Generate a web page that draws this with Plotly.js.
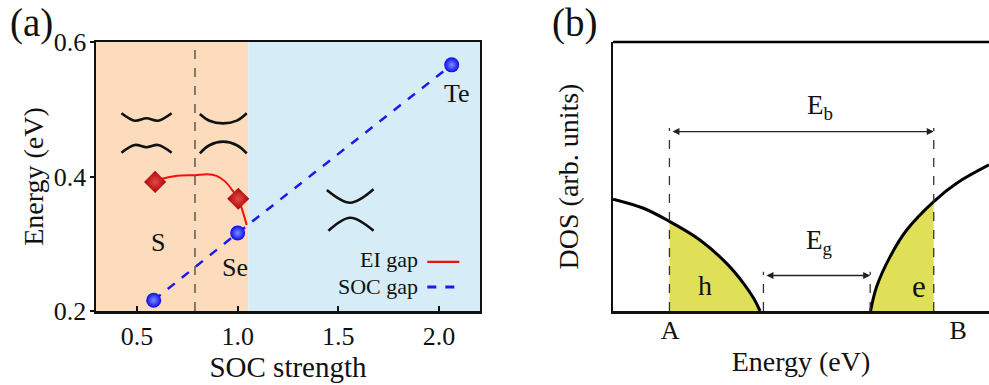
<!DOCTYPE html>
<html>
<head>
<meta charset="utf-8">
<script src="https://cdn.plot.ly/plotly-3.0.1.min.js"></script>
<style>html,body{margin:0;padding:0;background:#fff;}#chart{width:989px;height:385px;}</style>
</head>
<body>
<div id="chart"></div>
<script>
// ---------- Panel (a) data ----------
var socX = [0.583, 1.0, 2.063];
var socY = [0.216, 0.316, 0.566];
var socLabels = ['S', 'Se', 'Te'];
var eiCurveX = [0.59, 0.63, 0.70, 0.79, 0.85, 0.895, 0.94, 0.97, 1.003, 1.045];
var eiCurveY = [0.392, 0.397, 0.401, 0.402, 0.4035, 0.401, 0.392, 0.381, 0.367, 0.328];
var eiPointX = [0.59, 1.003];
var eiPointY = [0.392, 0.367];
var eiRegionEnd = 1.053;
var phaseLine = 0.788;
// band sketches (schematic)
var wavyUpX = [0.423, 0.489, 0.547, 0.605, 0.672];
var wavyUpY = [0.494, 0.483, 0.4866, 0.483, 0.494];
var wavyLoX = [0.423, 0.489, 0.547, 0.605, 0.672];
var wavyLoY = [0.4354, 0.4469, 0.4434, 0.4469, 0.4354];
var seUpX = [0.812, 0.86, 0.928, 0.996, 1.045];
var seUpY = [0.493, 0.483, 0.479, 0.483, 0.494];
var seLoX = [0.812, 0.86, 0.928, 0.996, 1.045];
var seLoY = [0.4345, 0.4465, 0.4518, 0.4465, 0.4345];
var teUpX = [1.443, 1.559, 1.675];
var teUpY = [0.380, 0.361, 0.381];
var teLoX = [1.451, 1.559, 1.675];
var teLoY = [0.3194, 0.3387, 0.3194];

// ---------- Panel (b) data ----------
var valX = [0, 0.81, 1.5, 2.31, 3.02, 3.47, 3.74, 3.91];
var valY = [4.16, 3.82, 3.33, 2.64, 1.77, 1.03, 0.47, 0];
var valFillX = [1.5, 2.31, 3.02, 3.47, 3.74, 3.91];
var valFillY = [3.33, 2.64, 1.77, 1.03, 0.47, 0];
var conX = [6.85, 7.01, 7.37, 7.81, 8.53, 9.14, 10];
var conY = [0, 0.90, 2.02, 3.01, 4.07, 4.75, 5.43];
var conFillX = [6.85, 7.01, 7.37, 7.81, 8.53];
var conFillY = [0, 0.90, 2.02, 3.01, 4.07];
var posA = 1.5, posB = 8.53;
var edgeV = 4.0, edgeC = 6.84;
var ebLevel = 6.67, egLevel = 1.32;
var tickLabelsB = ['A', 'B'];
var tickPosB = [1.516, 9.18];

var serif = '"Liberation Serif", "Times New Roman", serif';
var yellow = '#dfdf58';

function sketch(x, y) {
  return {x: x, y: y, xaxis: 'x', yaxis: 'y', mode: 'lines', hoverinfo: 'skip', showlegend: false,
          line: {color: '#111', width: 2.6, shape: 'spline', smoothing: 1}};
}

var traces = [
  sketch(wavyUpX, wavyUpY), sketch(wavyLoX, wavyLoY),
  sketch(seUpX, seUpY), sketch(seLoX, seLoY),
  sketch(teUpX, teUpY), sketch(teLoX, teLoY),
  {x: socX, y: socY, xaxis: 'x', yaxis: 'y', mode: 'lines', showlegend: false,
   line: {color: '#1a1aee', width: 2.5, dash: 'dash'}},
  {x: eiCurveX, y: eiCurveY, xaxis: 'x', yaxis: 'y', mode: 'lines', showlegend: false,
   line: {color: '#ee1111', width: 2, shape: 'spline', smoothing: 0.7}},
  {x: eiPointX, y: eiPointY, xaxis: 'x', yaxis: 'y', mode: 'markers', showlegend: false,
   marker: {symbol: 'diamond', size: 17, color: '#b00000', gradient: {type: 'radial', color: '#e04a4a'},
            line: {width: 0}}},
  {x: socX, y: socY, xaxis: 'x', yaxis: 'y', mode: 'markers', showlegend: false,
   marker: {symbol: 'circle', size: 15, color: '#0a0ae6', gradient: {type: 'radial', color: '#7f8fff'},
            line: {width: 0}}},
  // panel b
  {x: valFillX, y: valFillY, xaxis: 'x2', yaxis: 'y2', mode: 'lines', fill: 'tozeroy', fillcolor: yellow,
   line: {width: 0, shape: 'spline'}, showlegend: false, hoverinfo: 'skip'},
  {x: conFillX, y: conFillY, xaxis: 'x2', yaxis: 'y2', mode: 'lines', fill: 'tozeroy', fillcolor: yellow,
   line: {width: 0, shape: 'spline'}, showlegend: false, hoverinfo: 'skip'},
  {x: valX, y: valY, xaxis: 'x2', yaxis: 'y2', mode: 'lines', showlegend: false,
   line: {color: '#000', width: 3, shape: 'spline'}},
  {x: conX, y: conY, xaxis: 'x2', yaxis: 'y2', mode: 'lines', showlegend: false,
   line: {color: '#000', width: 3, shape: 'spline'}}
];

var dashGray = {color: '#333', width: 1.3, dash: 'dash'};
var shapes = [
  {type: 'rect', xref: 'x', yref: 'y', x0: 0.2964, x1: eiRegionEnd, y0: 0.2, y1: 0.6, layer: 'below',
   fillcolor: '#fcdcbd', line: {width: 0}},
  {type: 'rect', xref: 'x', yref: 'y', x0: eiRegionEnd, x1: 2.2036, y0: 0.2, y1: 0.6, layer: 'below',
   fillcolor: '#d6ecf7', line: {width: 0}},
  {type: 'line', xref: 'x', yref: 'y', x0: phaseLine, x1: phaseLine, y0: 0.2, y1: 0.6,
   line: {color: '#444', width: 1.3, dash: 'dash'}},
  // legend samples
  {type: 'line', xref: 'x', yref: 'y', x0: 1.942, x1: 2.101, y0: 0.273, y1: 0.273,
   line: {color: '#ee1111', width: 2.2}},
  {type: 'line', xref: 'x', yref: 'y', x0: 1.942, x1: 2.111, y0: 0.2357, y1: 0.2357,
   line: {color: '#1a1aee', width: 3, dash: 'dash'}},
  // panel b
  {type: 'line', xref: 'x2 domain', yref: 'y2 domain', x0: 0, x1: 1, y0: 1, y1: 1,
   line: {color: '#000', width: 2.5}},
  {type: 'line', xref: 'x2', yref: 'y2', x0: posA, x1: posA, y0: 0, y1: 6.8, line: dashGray},
  {type: 'line', xref: 'x2', yref: 'y2', x0: posB, x1: posB, y0: 0, y1: 6.8, line: dashGray},
  {type: 'line', xref: 'x2', yref: 'y2', x0: edgeV, x1: edgeV, y0: 0, y1: 1.46, line: dashGray},
  {type: 'line', xref: 'x2', yref: 'y2', x0: edgeC, x1: edgeC, y0: 0, y1: 1.46, line: dashGray}
];

var annotations = [
  {text: '(a)', xref: 'paper', yref: 'paper', x: -0.0985, y: 1.0706, xanchor: 'left', yanchor: 'middle',
   showarrow: false, font: {family: serif, size: 39, color: '#111'}},
  {text: '(b)', xref: 'paper', yref: 'paper', x: 0.508, y: 1.0706, xanchor: 'left', yanchor: 'middle',
   showarrow: false, font: {family: serif, size: 39, color: '#111'}},
  {text: socLabels[0], xref: 'x', yref: 'y', x: 0.603, y: 0.3026, showarrow: false,
   font: {family: serif, size: 26, color: '#111'}},
  {text: socLabels[1], xref: 'x', yref: 'y', x: 0.987, y: 0.264, showarrow: false,
   font: {family: serif, size: 26, color: '#111'}},
  {text: socLabels[2], xref: 'x', yref: 'y', x: 2.091, y: 0.524, showarrow: false,
   font: {family: serif, size: 26, color: '#111'}},
  {text: 'EI gap', xref: 'x', yref: 'y', x: 1.907, y: 0.276, xanchor: 'right', showarrow: false,
   font: {family: serif, size: 22, color: '#111'}},
  {text: 'SOC gap', xref: 'x', yref: 'y', x: 1.907, y: 0.2367, xanchor: 'right', showarrow: false,
   font: {family: serif, size: 22, color: '#111'}},
  // panel b
  {text: 'E<sub>b</sub>', xref: 'x2', yref: 'y2', x: 5.5, y: 7.6, showarrow: false,
   font: {family: serif, size: 27, color: '#111'}},
  {text: 'E<sub>g</sub>', xref: 'x2', yref: 'y2', x: 5.5, y: 2.55, showarrow: false,
   font: {family: serif, size: 27, color: '#111'}},
  {text: 'h', xref: 'x2', yref: 'y2', x: 2.45, y: 0.93, showarrow: false,
   font: {family: serif, size: 28, color: '#111'}},
  {text: 'e', xref: 'x2', yref: 'y2', x: 8.14, y: 0.9, showarrow: false,
   font: {family: serif, size: 31, color: '#111'}},
  {x: posB, y: ebLevel, ax: posA, ay: ebLevel, xref: 'x2', yref: 'y2', axref: 'x2', ayref: 'y2',
   showarrow: true, arrowside: 'end+start', arrowhead: 2, arrowsize: 1, arrowwidth: 1.4, arrowcolor: '#222', text: ' '},
  {x: edgeC, y: egLevel, ax: edgeV, ay: egLevel, xref: 'x2', yref: 'y2', axref: 'x2', ayref: 'y2',
   showarrow: true, arrowside: 'end+start', arrowhead: 2, arrowsize: 1, arrowwidth: 1.4, arrowcolor: '#222', text: ' '}
];

var layout = {
  width: 989, height: 385,
  margin: {l: 96, r: 0, t: 42, b: 74, pad: 0},
  paper_bgcolor: '#fff', plot_bgcolor: 'rgba(0,0,0,0)',
  showlegend: false,
  font: {family: serif, color: '#111'},
  xaxis: {domain: [0, 0.43], range: [0.2964, 2.2036], showgrid: false, zeroline: false,
          showline: true, mirror: true, linecolor: '#111', linewidth: 2.5,
          ticks: 'inside', ticklen: 5, tickwidth: 2, tickcolor: '#111',
          tickvals: [0.5, 1.0, 1.5, 2.0], ticktext: ['0.5', '1.0', '1.5', '2.0'],
          tickfont: {family: serif, size: 26, color: '#111'},
          title: {text: 'SOC strength', font: {family: serif, size: 29, color: '#111'}, standoff: 4}},
  yaxis: {domain: [0, 1], range: [0.2, 0.6], showgrid: false, zeroline: false,
          showline: true, mirror: true, linecolor: '#111', linewidth: 2.5,
          ticks: 'outside', ticklen: 4, tickwidth: 2, tickcolor: '#111', ticklabelstandoff: -2,
          tickvals: [0.2, 0.4, 0.6], ticktext: ['0.2', '0.4', '0.6'],
          tickfont: {family: serif, size: 26, color: '#111'},
          title: {text: 'Energy (eV)', font: {family: serif, size: 28, color: '#111'}, standoff: 2}},
  xaxis2: {domain: [0.579, 1], range: [0, 10], anchor: 'y2', showgrid: false, zeroline: false,
           showline: true, linecolor: '#111', linewidth: 2.5, ticks: '', ticklabelstandoff: -6,
           tickvals: tickPosB, ticktext: tickLabelsB,
           tickfont: {family: serif, size: 26, color: '#111'},
           title: {text: 'Energy (eV)', font: {family: serif, size: 28, color: '#111'}, standoff: 8}},
  yaxis2: {domain: [0, 1], range: [0, 10], anchor: 'x2', showgrid: false, zeroline: false,
           showline: true, linecolor: '#111', linewidth: 2.5, ticks: '', showticklabels: false,
           title: {text: 'DOS (arb. units)', font: {family: serif, size: 28, color: '#111'}, standoff: 24}},
  shapes: shapes,
  annotations: annotations
};

Plotly.newPlot('chart', traces, layout, {displayModeBar: false, staticPlot: true});
</script>
</body>
</html>
